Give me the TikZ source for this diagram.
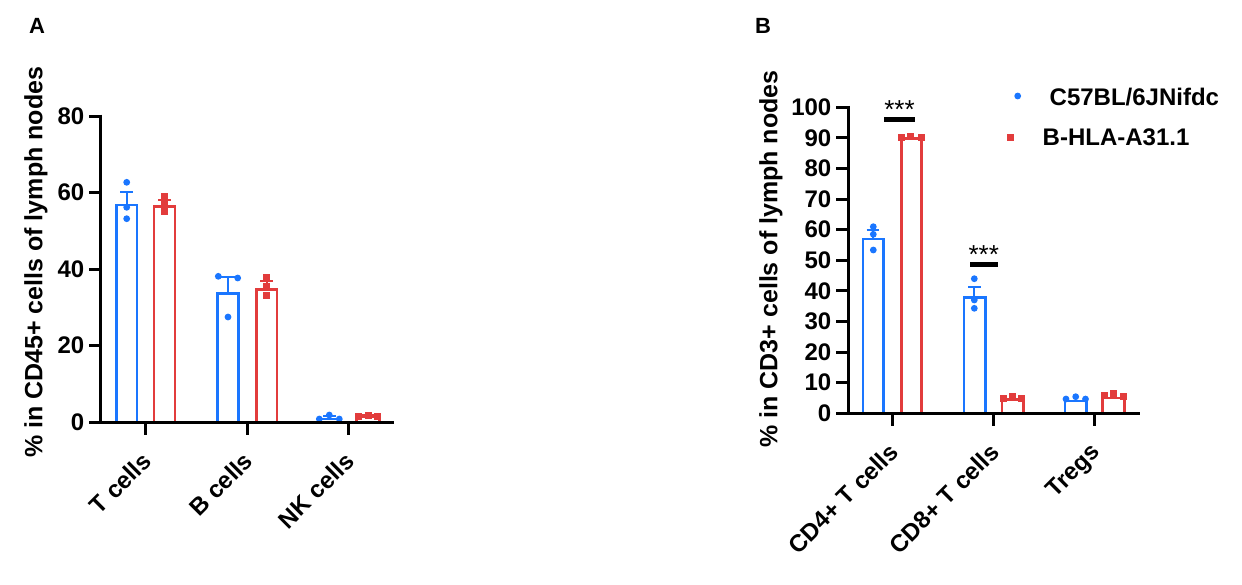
\documentclass[tikz,border=0pt]{standalone}
\usepackage{fontspec}
\setmainfont{Liberation Sans}
\definecolor{cblue}{RGB}{26,118,255}
\definecolor{cred}{RGB}{226,60,60}
\newcommand\bdot[2]{\fill[cblue] (#1,#2) circle (3.4pt);}
\newcommand\rsq[2]{\fill[cred] ({#1-3.5},{#2-3.5}) rectangle ++(7,7);}
\tikzset{
  axisline/.style={line width=3pt, black},
  bluebar/.style={draw=cblue, line width=2.6pt},
  redbar/.style={draw=cred, line width=2.6pt},
  errb/.style={cblue, line width=1.8pt},
  errr/.style={cred, line width=1.8pt},
  ticklab/.style={font=\bfseries\fontsize{24}{28}\selectfont, inner sep=0pt, anchor=east},
  catlab/.style={font=\bfseries\fontsize{24}{28}\selectfont, inner sep=0pt, anchor=north east, rotate=45},
  ylab/.style={font=\bfseries\fontsize{25}{29}\selectfont, inner sep=0pt, rotate=90},
  panellab/.style={font=\bfseries\fontsize{22}{26}\selectfont, inner sep=0pt, anchor=base west},
  leglab/.style={font=\bfseries\fontsize{24}{28}\selectfont, inner sep=0pt, anchor=base west},
  starlab/.style={font=\fontsize{26}{30}\selectfont, inner sep=0pt, anchor=base},
  sigbar/.style={line width=5pt, black}
}
\begin{document}
\begin{tikzpicture}[x=1pt,y=-1pt]
\useasboundingbox (0,0) rectangle (1242,584);
\fill[white] (0,0) rectangle (1242,584);

% ---------------- Panel A ----------------
\node[panellab] (labA) at (29,33) {A};
\node[ylab] (ylabA) at (36,262.4) {\% in CD45+ cells of lymph nodes};

% bars
\draw[bluebar] (116.3,422) |- (137,204.8) -- (137,422);
\draw[redbar]  (154,422) |- (175,206.3) -- (175,422);
\draw[bluebar] (217.3,422) |- (238.7,293.3) -- (238.7,422);
\draw[redbar]  (256.3,422) |- (277,289.3) -- (277,422);
\draw[bluebar] (318,422) |- (338.7,418.8) -- (338.7,422);
\draw[redbar]  (356.3,422) |- (379.4,416.3) -- (379.4,422);

% error bars
\draw[errb] (126.7,204) -- (126.7,192) (120,192) -- (133.3,192);
\draw[errr] (164.5,205) -- (164.5,200) (158.3,200) -- (170.7,200);
\draw[errb] (228,292) -- (228,277.3) (218,277.3) -- (238,277.3);
\draw[errr] (266.7,288) -- (266.7,281) (260,281) -- (272.7,281);
\draw[errb] (329.3,418) -- (329.3,416) (323,416) -- (335.5,416);
\draw[errr] (368,415) -- (368,414.5) (362,414.5) -- (374,414.5);

% points
\bdot{126.7}{182.3}\bdot{126.7}{207.3}\bdot{126.7}{218.7}
\rsq{164.5}{196}\rsq{164.5}{204}\rsq{164.5}{211.5}
\bdot{218.3}{276.3}\bdot{237.7}{278}\bdot{228}{317}
\rsq{266.7}{277.5}\rsq{266.7}{286}\rsq{266.7}{295}
\bdot{319.3}{419}\bdot{329.3}{415}\bdot{339.3}{419}
\rsq{358.5}{416.5}\rsq{368}{415.5}\rsq{377.5}{416.5}

% axes
\draw[axisline] (100,114.5) -- (100,423.5);
\draw[axisline] (89,422) -- (394.3,422);
\foreach \v/\yy in {20/345.5,40/269,60/192.5,80/116}
  \draw[axisline] (89,\yy) -- (100,\yy);
\foreach \v/\yy in {0/422,20/345.5,40/269,60/192.5,80/116}
  \node[ticklab] (tA\v) at (84.5,\yy) {\v};
\foreach \xx in {145.7,247.2,348.5}
  \draw[axisline] (\xx,422) -- (\xx,435);
\node[catlab] (cT) at (140.5,450.5) {T cells};
\node[catlab] (cB) at (242,450.5) {B cells};
\node[catlab] (cNK) at (343.3,450.5) {NK cells};

% ---------------- Panel B ----------------
\node[panellab] (labB) at (755,33) {B};
\node[ylab] (ylabB) at (771,259) {\% in CD3+ cells of lymph nodes};

% bars
\draw[bluebar] (863,413.3) |- (883.7,239) -- (883.7,413.3);
\draw[redbar]  (901.3,413.3) |- (921.4,138.6) -- (921.4,413.3);
\draw[bluebar] (964,413.3) |- (985.4,297.3) -- (985.4,413.3);
\draw[redbar]  (1001.8,413.3) |- (1023.2,399.6) -- (1023.2,413.3);
\draw[bluebar] (1064.8,413.3) |- (1086.2,401) -- (1086.2,413.3);
\draw[redbar]  (1102.3,413.3) |- (1124.2,397.8) -- (1124.2,413.3);

% error bars
\draw[errb] (873.3,238) -- (873.3,230) (866.7,230) -- (879.3,230);
\draw[errb] (974.3,296) -- (974.3,286.7) (968,286.7) -- (980.5,286.7);

% points
\bdot{873.3}{226.7}\bdot{873.3}{234.3}\bdot{873.3}{250}
\rsq{901.5}{137}\rsq{910.7}{136}\rsq{921}{137}
\bdot{974.3}{278.7}\bdot{974.3}{300}\bdot{974.3}{308.3}
\rsq{1003}{398}\rsq{1012}{396}\rsq{1021.5}{398}
\bdot{1066}{399}\bdot{1075.7}{396.7}\bdot{1085.5}{399}
\rsq{1104}{395.5}\rsq{1113.7}{393.5}\rsq{1123}{396.5}

% significance
\draw[sigbar] (884,119) -- (915,119);
\node[starlab] (s1) at (899.5,118) {***};
\draw[sigbar] (970,264.3) -- (997.7,264.3);
\node[starlab] (s2) at (983.8,263) {***};

% axes
\draw[axisline] (848.3,105.8) -- (848.3,414.8);
\draw[axisline] (836,413.3) -- (1140,413.3);
\foreach \k in {1,...,10}
  \draw[axisline] (836,{413.3-30.6*\k}) -- (848.3,{413.3-30.6*\k});
\foreach \k in {0,...,10}{
  \pgfmathtruncatemacro\lab{10*\k}
  \node[ticklab] (tB\k) at (831.5,{413.3-30.6*\k}) {\lab};
}
\foreach \xx in {892.3,993.3,1094.3}
  \draw[axisline] (\xx,413.3) -- (\xx,426);
\node[catlab] (cCD4) at (887.5,441.5) {CD4+ T cells};
\node[catlab] (cCD8) at (988.5,441.5) {CD8+ T cells};
\node[catlab] (cTr) at (1089.5,441.5) {Tregs};

% legend
\bdot{1017.7}{96}
\node[leglab] (lg1) at (1049.5,105) {C57BL/6JNifdc};
\rsq{1010.7}{137.3}
\node[leglab] (lg2) at (1042.5,145.5) {B-HLA-A31.1};
\end{tikzpicture}
\end{document}
